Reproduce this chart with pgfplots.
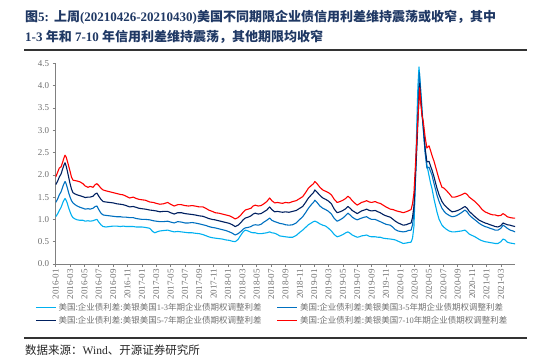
\documentclass[border=0pt]{standalone}
\usepackage{pgfplots}
\pgfplotsset{compat=1.18}
\usepackage{fontspec}
\setmainfont{Liberation Serif}
\newfontfamily\cjk{Noto Sans CJK SC}
\definecolor{c13}{HTML}{00B0F0}
\definecolor{c35}{HTML}{0070C0}
\definecolor{c57}{HTML}{002060}
\definecolor{c710}{HTML}{FF0000}
\definecolor{ttl}{HTML}{1F3864}
\definecolor{tk}{HTML}{707070}
\begin{document}
\begin{tikzpicture}
\path[use as bounding box] (0bp,0bp) rectangle (550bp,363bp);
\node[anchor=west, inner sep=0pt, text=ttl, font=\bfseries\fontsize{13bp}{15bp}\selectfont] at (25bp,346bp)
 {{\cjk\bfseries 图}5:\hspace{5bp}{\cjk\bfseries 上周}(20210426-20210430){\cjk\bfseries 美国不同期限企业债信用利差维持震荡或收窄，其中}};
\node[anchor=west, inner sep=0pt, text=ttl, font=\bfseries\fontsize{13bp}{15bp}\selectfont] at (25bp,326bp)
 {1-3 {\cjk\bfseries 年和} 7-10 {\cjk\bfseries 年信用利差维持震荡，其他期限均收窄}};
\draw[line width=1.3bp, black!80] (24bp,313bp) -- (527bp,313bp);
\draw[line width=1.3bp, black!80] (24bp,25bp) -- (527bp,25bp);
\node[anchor=west, inner sep=0pt, text=black!85, font=\fontsize{11.5bp}{13bp}\selectfont] at (25bp,13bp)
 {{\cjk 数据来源：}Wind{\cjk 、开源证券研究所}};
\begin{axis}[
  at={(55.7bp,99bp)}, anchor=south west, scale only axis,
  width=459.5bp, height=200.7bp,
  xmin=0, xmax=64, ymin=0, ymax=4.5,
  axis x line*=bottom, axis y line*=left,
  axis line style={draw=black!50, line width=0.8bp},
  tick style={draw=black!50, line width=0.6bp},
  tick align=outside, major tick length=3bp,
  /pgf/number format/assume math mode=true,
  xtick={0,2,...,62},
  xticklabels={2016-01,2016-03,2016-05,2016-07,2016-09,2016-11,2017-01,2017-03,2017-05,2017-07,2017-09,2017-11,2018-01,2018-03,2018-05,2018-07,2018-09,2018-11,2019-01,2019-03,2019-05,2019-07,2019-09,2019-11,2020-01,2020-03,2020-05,2020-07,2020-09,2020-11,2021-01,2021-03},
  x tick label style={rotate=90, anchor=east, font=\fontsize{9bp}{9bp}\selectfont, text=tk, inner sep=2bp},
  ytick={0,0.5,...,4.5},
  yticklabel style={/pgf/number format/fixed, /pgf/number format/fixed zerofill, /pgf/number format/precision=1},
  y tick label style={font=\fontsize{9bp}{9bp}\selectfont, text=tk},
  legend columns=2,
  legend cell align=left,
  legend style={draw=none, fill=none, inner sep=0pt, at={(-0.045,-0.185)}, anchor=north west,
    font=\cjk\fontsize{8.5bp}{10bp}\selectfont, text=tk,
    /tikz/every even column/.append style={column sep=13bp}},
  legend image code/.code={\draw[#1, line width=1.4bp] (0bp,0bp) -- (20bp,0bp);},
  every axis plot/.append style={line width=1.1bp, line join=round},
]
\addplot[c13] coordinates {
(0.0,1.06)(0.25,1.12)(0.5,1.20)(0.75,1.27)(1.0,1.38)(1.15,1.43)(1.3,1.47)(1.45,1.43)(1.6,1.37)(1.8,1.26)
(2.0,1.17)(2.2,1.09)(2.4,1.04)(2.7,1.01)(3.0,0.99)(3.4,0.98)(3.8,0.98)(4.1,0.96)(4.5,0.97)(4.8,0.96)
(5.2,0.97)(5.5,0.99)(5.75,1.00)(6.0,0.94)(6.3,0.88)(6.6,0.84)(7.0,0.83)(7.5,0.84)(8.0,0.85)(8.5,0.85)
(9.0,0.84)(9.4,0.85)(9.8,0.84)(10.3,0.84)(10.8,0.84)(11.2,0.83)(11.6,0.83)(12.0,0.83)(12.5,0.82)(13.1,0.80)
(13.5,0.73)(13.8,0.70)(14.1,0.72)(14.5,0.74)(15.0,0.75)(15.6,0.76)(16.0,0.74)(16.5,0.72)(17.0,0.73)(17.5,0.72)
(18.0,0.71)(18.5,0.70)(19.0,0.70)(19.4,0.69)(20.0,0.68)(20.5,0.66)(21.0,0.63)(21.3,0.61)(21.8,0.59)(22.2,0.58)
(22.7,0.57)(23.2,0.56)(23.7,0.54)(24.2,0.53)(24.6,0.51)(25.0,0.50)(25.4,0.55)(25.8,0.65)(26.1,0.72)(26.4,0.76)
(26.8,0.74)(27.2,0.71)(27.5,0.70)(27.8,0.70)(28.2,0.68)(28.6,0.68)(29.0,0.69)(29.4,0.70)(29.8,0.72)(30.1,0.70)
(30.5,0.69)(30.9,0.66)(31.2,0.63)(31.6,0.62)(32.0,0.61)(32.5,0.60)(33.0,0.60)(33.5,0.64)(34.0,0.71)(34.4,0.76)
(34.8,0.82)(35.2,0.88)(35.6,0.92)(35.9,0.95)(36.1,0.96)(36.4,0.94)(36.8,0.90)(37.2,0.87)(37.6,0.85)(38.0,0.80)
(38.4,0.74)(38.8,0.66)(39.2,0.61)(39.6,0.63)(40.0,0.66)(40.4,0.70)(40.7,0.72)(41.0,0.69)(41.3,0.65)(41.7,0.62)
(42.0,0.60)(42.3,0.61)(42.6,0.63)(43.0,0.64)(43.3,0.65)(43.7,0.62)(44.0,0.61)(44.5,0.61)(44.9,0.60)(45.2,0.60)
(45.6,0.58)(46.0,0.57)(46.6,0.56)(47.0,0.55)(47.3,0.54)(47.7,0.51)(48.0,0.49)(48.4,0.46)(48.8,0.47)(49.1,0.48)
(49.5,0.49)(49.7,0.58)(49.9,0.85)(50.1,1.80)(50.3,3.19)(50.45,4.00)(50.6,4.42)(50.8,4.00)(51.0,3.56)(51.2,3.00)
(51.45,2.55)(51.7,2.22)(52.0,1.98)(52.2,1.82)(52.4,1.70)(52.7,1.45)(53.1,1.17)(53.4,1.00)(53.8,0.87)(54.1,0.82)
(54.4,0.78)(54.8,0.74)(55.2,0.72)(55.6,0.72)(56.0,0.73)(56.5,0.74)(57.0,0.76)(57.3,0.72)(57.6,0.67)(58.0,0.64)
(58.4,0.61)(58.7,0.58)(59.0,0.55)(59.4,0.52)(59.8,0.50)(60.2,0.49)(60.5,0.48)(60.9,0.47)(61.2,0.46)(61.6,0.46)
(62.0,0.50)(62.3,0.56)(62.6,0.54)(62.9,0.49)(63.3,0.47)(63.7,0.46)(64.0,0.45)
};
\addlegendentry{美国:企业债利差:美银美国{\rmfamily 1-3}年期企业债期权调整利差}
\addplot[c35] coordinates {
(0.0,1.38)(0.25,1.45)(0.5,1.55)(0.75,1.62)(1.0,1.74)(1.15,1.80)(1.3,1.85)(1.45,1.80)(1.6,1.72)(1.8,1.60)
(2.0,1.50)(2.2,1.42)(2.4,1.37)(2.7,1.33)(3.0,1.30)(3.4,1.27)(3.8,1.25)(4.1,1.23)(4.5,1.24)(4.8,1.23)
(5.2,1.25)(5.5,1.29)(5.75,1.30)(6.0,1.22)(6.3,1.14)(6.6,1.10)(7.0,1.09)(7.5,1.08)(8.0,1.07)(8.5,1.06)
(9.0,1.06)(9.4,1.05)(9.8,1.05)(10.3,1.04)(10.8,1.04)(11.2,1.02)(11.6,1.01)(12.0,1.00)(12.5,1.00)(13.1,0.99)
(13.6,0.97)(14.0,0.96)(14.5,0.95)(15.0,0.95)(15.6,0.96)(16.0,0.94)(16.5,0.92)(17.0,0.95)(17.5,0.94)(18.0,0.92)
(18.5,0.92)(19.0,0.93)(19.4,0.92)(20.0,0.90)(20.5,0.88)(21.0,0.86)(21.3,0.84)(21.8,0.82)(22.2,0.81)(22.7,0.79)
(23.2,0.77)(23.7,0.75)(24.2,0.72)(24.6,0.69)(25.0,0.65)(25.4,0.68)(25.8,0.73)(26.1,0.78)(26.4,0.81)(26.8,0.82)
(27.2,0.84)(27.5,0.87)(27.8,0.88)(28.2,0.87)(28.6,0.89)(29.0,0.94)(29.4,0.98)(29.8,1.03)(30.1,0.98)(30.5,0.95)
(30.9,0.93)(31.2,0.91)(31.6,0.90)(32.0,0.88)(32.5,0.87)(33.0,0.88)(33.5,0.92)(34.0,1.00)(34.4,1.06)(34.8,1.15)
(35.2,1.25)(35.6,1.33)(35.9,1.38)(36.1,1.43)(36.4,1.38)(36.8,1.30)(37.2,1.25)(37.6,1.22)(38.0,1.18)(38.4,1.12)
(38.8,1.02)(39.2,0.96)(39.6,0.99)(40.0,1.03)(40.4,1.09)(40.7,1.14)(41.0,1.10)(41.3,1.05)(41.7,1.01)(42.0,0.99)
(42.3,1.01)(42.6,1.03)(43.0,1.05)(43.3,1.06)(43.7,1.02)(44.0,1.00)(44.5,1.00)(44.9,0.97)(45.2,0.95)(45.6,0.92)
(46.0,0.89)(46.6,0.87)(47.0,0.82)(47.3,0.77)(47.7,0.74)(48.0,0.73)(48.4,0.72)(48.8,0.73)(49.1,0.75)(49.5,0.76)
(49.7,0.88)(49.9,1.15)(50.1,1.90)(50.3,2.80)(50.5,3.70)(50.65,4.30)(50.85,3.80)(51.0,3.40)(51.2,3.05)(51.45,2.50)
(51.7,2.15)(52.0,2.17)(52.2,2.08)(52.4,2.00)(52.7,1.80)(53.1,1.55)(53.4,1.40)(53.8,1.25)(54.1,1.18)(54.4,1.13)
(54.8,1.09)(55.2,1.06)(55.6,1.07)(56.0,1.10)(56.5,1.15)(57.0,1.21)(57.3,1.17)(57.6,1.10)(58.0,1.04)(58.4,0.99)
(58.7,0.95)(59.0,0.91)(59.4,0.87)(59.8,0.84)(60.2,0.82)(60.5,0.80)(60.9,0.78)(61.2,0.76)(61.6,0.76)(62.0,0.80)
(62.3,0.87)(62.6,0.84)(62.9,0.80)(63.3,0.76)(63.7,0.74)(64.0,0.72)
};
\addlegendentry{美国:企业债利差:美银美国{\rmfamily 3-5}年期企业债期权调整利差}
\addplot[c57] coordinates {
(0.0,1.78)(0.25,1.85)(0.5,1.95)(0.75,2.02)(1.0,2.15)(1.15,2.22)(1.3,2.27)(1.45,2.20)(1.6,2.10)(1.8,1.95)
(2.0,1.80)(2.2,1.68)(2.4,1.60)(2.7,1.57)(3.0,1.55)(3.4,1.53)(3.8,1.51)(4.1,1.49)(4.5,1.50)(4.8,1.50)
(5.2,1.52)(5.5,1.57)(5.75,1.59)(6.0,1.52)(6.3,1.45)(6.6,1.40)(7.0,1.39)(7.5,1.38)(8.0,1.37)(8.5,1.35)
(9.0,1.34)(9.4,1.33)(9.8,1.31)(10.3,1.28)(10.8,1.29)(11.2,1.27)(11.6,1.25)(12.0,1.24)(12.5,1.23)(13.1,1.21)
(13.6,1.20)(14.0,1.19)(14.5,1.17)(15.0,1.18)(15.6,1.18)(16.0,1.15)(16.5,1.12)(17.0,1.15)(17.5,1.15)(18.0,1.13)
(18.5,1.12)(19.0,1.11)(19.4,1.10)(20.0,1.08)(20.5,1.07)(21.0,1.04)(21.3,1.02)(21.8,1.00)(22.2,0.99)(22.7,0.97)
(23.2,0.95)(23.7,0.93)(24.2,0.91)(24.6,0.88)(25.0,0.84)(25.4,0.87)(25.8,0.93)(26.1,0.99)(26.4,1.03)(26.8,1.05)
(27.2,1.08)(27.5,1.12)(27.8,1.14)(28.2,1.12)(28.6,1.13)(29.0,1.17)(29.4,1.21)(29.8,1.28)(30.1,1.22)(30.5,1.17)
(30.9,1.18)(31.2,1.17)(31.6,1.16)(32.0,1.17)(32.5,1.16)(33.0,1.18)(33.5,1.20)(34.0,1.25)(34.4,1.29)(34.8,1.38)
(35.2,1.48)(35.6,1.55)(35.9,1.60)(36.1,1.66)(36.4,1.61)(36.8,1.54)(37.2,1.48)(37.6,1.45)(38.0,1.41)(38.4,1.35)
(38.8,1.23)(39.2,1.15)(39.6,1.17)(40.0,1.20)(40.4,1.24)(40.7,1.29)(41.0,1.25)(41.3,1.20)(41.7,1.16)(42.0,1.13)
(42.3,1.16)(42.6,1.19)(43.0,1.21)(43.3,1.23)(43.7,1.20)(44.0,1.19)(44.5,1.20)(44.9,1.17)(45.2,1.15)(45.6,1.11)
(46.0,1.08)(46.6,1.05)(47.0,1.00)(47.3,0.96)(47.7,0.92)(48.0,0.90)(48.4,0.87)(48.8,0.88)(49.1,0.90)(49.5,0.92)
(49.7,1.05)(49.9,1.30)(50.1,1.95)(50.3,2.60)(50.5,3.40)(50.7,4.05)(50.85,3.70)(51.0,3.40)(51.2,3.10)(51.45,2.60)
(51.7,2.29)(52.0,2.30)(52.2,2.20)(52.4,2.11)(52.7,1.95)(53.1,1.70)(53.4,1.55)(53.8,1.40)(54.1,1.33)(54.4,1.28)
(54.8,1.22)(55.2,1.17)(55.6,1.18)(56.0,1.20)(56.5,1.24)(57.0,1.29)(57.3,1.25)(57.6,1.18)(58.0,1.12)(58.4,1.06)
(58.7,1.02)(59.0,0.98)(59.4,0.95)(59.8,0.92)(60.2,0.90)(60.5,0.88)(60.9,0.86)(61.2,0.84)(61.6,0.83)(62.0,0.86)
(62.3,0.92)(62.6,0.90)(62.9,0.88)(63.3,0.87)(63.7,0.85)(64.0,0.84)
};
\addlegendentry{美国:企业债利差:美银美国{\rmfamily 5-7}年期企业债期权调整利差}
\addplot[c710] coordinates {
(0.0,1.95)(0.25,2.05)(0.5,2.15)(0.75,2.18)(1.0,2.30)(1.15,2.38)(1.3,2.44)(1.45,2.40)(1.6,2.32)(1.8,2.20)
(2.0,2.08)(2.2,1.95)(2.4,1.88)(2.7,1.87)(3.0,1.86)(3.4,1.84)(3.8,1.80)(4.1,1.75)(4.5,1.72)(4.8,1.74)
(5.2,1.72)(5.5,1.78)(5.75,1.80)(6.0,1.76)(6.3,1.70)(6.6,1.66)(7.0,1.64)(7.5,1.62)(8.0,1.60)(8.5,1.58)
(9.0,1.56)(9.4,1.55)(9.8,1.52)(10.3,1.48)(10.8,1.50)(11.2,1.47)(11.6,1.45)(12.0,1.44)(12.5,1.43)(13.1,1.39)
(13.6,1.38)(14.0,1.36)(14.5,1.34)(15.0,1.35)(15.6,1.38)(16.0,1.34)(16.5,1.30)(17.0,1.33)(17.5,1.33)(18.0,1.31)
(18.5,1.30)(19.0,1.31)(19.4,1.30)(20.0,1.28)(20.5,1.28)(21.0,1.24)(21.3,1.21)(21.8,1.18)(22.2,1.15)(22.7,1.14)
(23.2,1.12)(23.7,1.10)(24.2,1.08)(24.6,1.05)(25.0,1.01)(25.4,1.04)(25.8,1.10)(26.1,1.16)(26.4,1.21)(26.8,1.23)
(27.2,1.25)(27.5,1.30)(27.8,1.32)(28.2,1.30)(28.6,1.31)(29.0,1.35)(29.4,1.40)(29.8,1.48)(30.1,1.42)(30.5,1.37)
(30.9,1.38)(31.2,1.37)(31.6,1.36)(32.0,1.38)(32.5,1.37)(33.0,1.40)(33.5,1.42)(34.0,1.47)(34.4,1.51)(34.8,1.60)
(35.2,1.70)(35.6,1.76)(35.9,1.80)(36.1,1.85)(36.4,1.80)(36.8,1.72)(37.2,1.66)(37.6,1.63)(38.0,1.60)(38.4,1.55)
(38.8,1.45)(39.2,1.38)(39.6,1.40)(40.0,1.43)(40.4,1.47)(40.7,1.52)(41.0,1.48)(41.3,1.42)(41.7,1.36)(42.0,1.32)
(42.3,1.35)(42.6,1.38)(43.0,1.40)(43.3,1.42)(43.7,1.39)(44.0,1.38)(44.5,1.40)(44.9,1.37)(45.2,1.36)(45.6,1.32)
(46.0,1.28)(46.6,1.23)(47.0,1.22)(47.3,1.20)(47.7,1.18)(48.0,1.17)(48.4,1.15)(48.8,1.17)(49.1,1.19)(49.5,1.22)
(49.7,1.35)(49.9,1.60)(50.1,2.20)(50.3,2.82)(50.5,3.40)(50.7,3.95)(50.85,3.60)(51.0,3.35)(51.2,3.19)(51.45,2.85)
(51.7,2.60)(52.0,2.65)(52.2,2.55)(52.4,2.44)(52.7,2.30)(53.1,2.07)(53.4,1.90)(53.8,1.72)(54.1,1.70)(54.4,1.65)
(54.8,1.58)(55.2,1.50)(55.6,1.50)(56.0,1.52)(56.5,1.55)(57.0,1.59)(57.3,1.56)(57.6,1.50)(58.0,1.45)(58.4,1.40)
(58.7,1.35)(59.0,1.30)(59.4,1.22)(59.8,1.17)(60.2,1.14)(60.5,1.12)(60.9,1.10)(61.2,1.10)(61.6,1.08)(62.0,1.09)
(62.3,1.13)(62.6,1.10)(62.9,1.06)(63.3,1.04)(63.7,1.03)(64.0,1.03)
};
\addlegendentry{美国:企业债利差:美银美国{\rmfamily 7-10}年期企业债期权调整利差}
\end{axis}
\end{tikzpicture}
\end{document}
